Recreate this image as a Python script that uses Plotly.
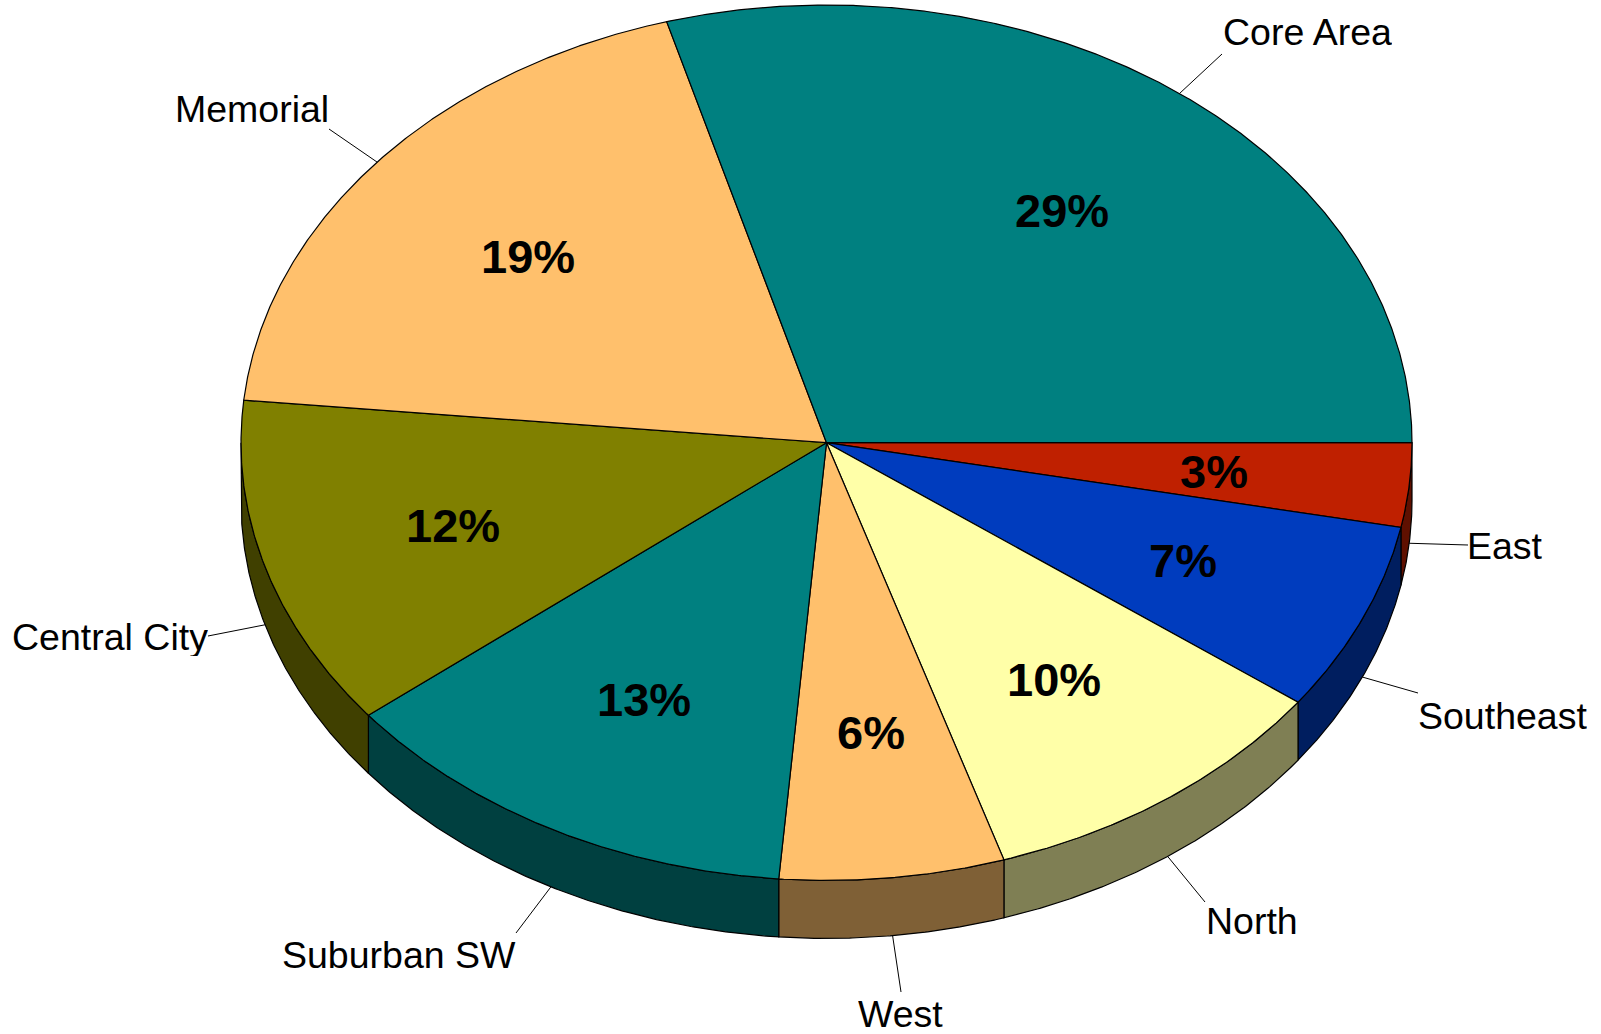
import numpy as np
import plotly.graph_objects as go

# Data, clockwise from 3 o'clock
regions = ["East", "Southeast", "North", "West", "Suburban SW", "Central City", "Memorial", "Core Area"]
shares = [3.1, 7.0, 10.0, 6.2, 13.0, 12.25, 19.05, 29.4]
slice_colors = ["#BF2000", "#003CBE", "#FFFFA8", "#FFC06C", "#008080", "#808000", "#FFC06C", "#008080"]

# Geometry / layout (pixels on the figure's axes)
W, H = 1601, 1034
CX, CY, RX, RY, DEPTH = 826.5, 442.7, 585.5, 437.7, 58
LABEL_R = 0.665
LEADER_ENDS = {
    "East": (1468, 545), "Southeast": (1418, 693), "North": (1205, 902), "West": (901, 992),
    "Suburban SW": (516, 933), "Central City": (208, 636), "Memorial": (329, 129), "Core Area": (1222, 54),
}
LABEL_POS = {
    "East": (1505, 546), "Southeast": (1502, 716), "North": (1252, 921), "West": (900, 1014),
    "Suburban SW": (398.5, 955), "Central City": (109.5, 637), "Memorial": (252, 109), "Core Area": (1307, 32),
}
FONT = "Liberation Sans, Arial, sans-serif"


def darker(hex_color):
    r, g, b = (int(hex_color[i:i + 2], 16) // 2 for i in (1, 3, 5))
    return f"rgb({r},{g},{b})"


def arc(t0, t1, dy=0.0):
    n = max(2, int(abs(t1 - t0) * 4) + 2)
    t = np.radians(np.linspace(t0, t1, n))
    return CX + RX * np.cos(t), CY + RY * np.sin(t) + dy


total = sum(shares)
edges = np.concatenate([[0], np.cumsum(shares)]) / total * 360.0
fig = go.Figure()
line = dict(color="black", width=1.2)


def add_poly(x, y, color):
    fig.add_trace(go.Scatter(x=x, y=y, mode="lines", fill="toself", fillcolor=color,
                             line=line, hoverinfo="skip", showlegend=False))


# Side walls (visible lower half only)
for i, color in enumerate(slice_colors):
    a, b = edges[i], min(edges[i + 1], 180.0)
    if a >= 180:
        continue
    x1, y1 = arc(a, b)
    x2, y2 = arc(b, a, DEPTH)
    add_poly(np.r_[x1, x2, x1[0]], np.r_[y1, y2, y1[0]], darker(color))

# Top faces
for i, color in enumerate(slice_colors):
    x1, y1 = arc(edges[i], edges[i + 1])
    add_poly(np.r_[CX, x1, CX], np.r_[CY, y1, CY], color)

annotations = []
for i, name in enumerate(regions):
    mid = np.radians((edges[i] + edges[i + 1]) / 2)
    c, s = np.cos(mid), np.sin(mid)
    # Percent label
    annotations.append(dict(x=CX + LABEL_R * RX * c + 0.3, y=CY + LABEL_R * RY * s + 0.3,
                            text=f"<b>{round(shares[i])}%</b>", showarrow=False,
                            font=dict(family=FONT, size=47, color="black")))
    # Leader line
    sx, sy = CX + RX * c, CY + RY * s + (DEPTH if s > 0 else 0)
    ex, ey = LEADER_ENDS[name]
    fig.add_trace(go.Scatter(x=[sx, ex], y=[sy, ey], mode="lines", line=dict(color="black", width=1),
                             hoverinfo="skip", showlegend=False))
    lx, ly = LABEL_POS[name]
    annotations.append(dict(x=lx, y=ly, text=name, showarrow=False, height=38,
                            font=dict(family=FONT, size=37.5, color="black")))

fig.update_layout(
    width=W, height=H, margin=dict(l=0, r=0, t=0, b=0),
    paper_bgcolor="white", plot_bgcolor="white", annotations=annotations,
    xaxis=dict(range=[0, W], visible=False, fixedrange=True),
    yaxis=dict(range=[H, 0], visible=False, fixedrange=True),
)
fig.write_html("out.html", config={"displayModeBar": False},
               post_script="document.body.style.margin='0';document.body.style.overflow='hidden';")
